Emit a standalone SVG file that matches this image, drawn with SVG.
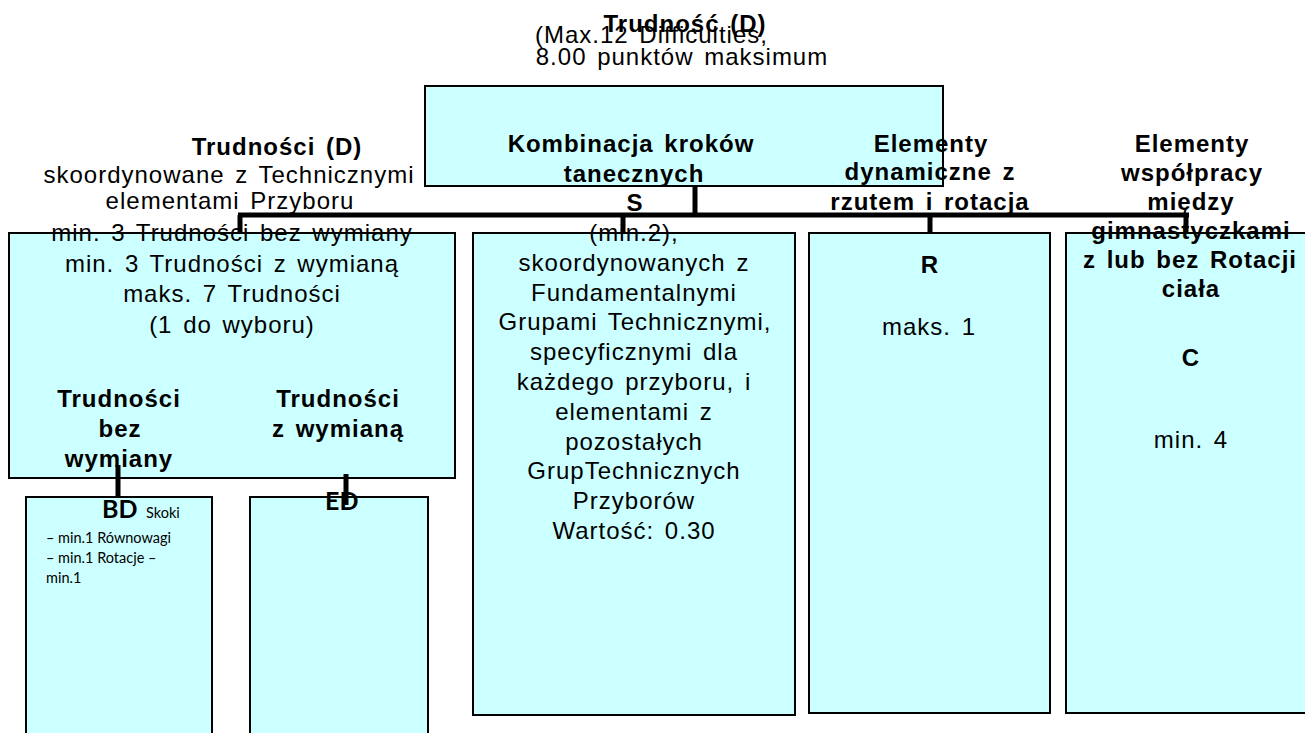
<svg xmlns="http://www.w3.org/2000/svg" width="1305" height="733" viewBox="0 0 1305 733">
<style>
.box{fill:#CCFFFF;stroke:#000;stroke-width:2}
.t{font-family:"Liberation Sans",Arial,Helvetica,sans-serif;font-size:24px;letter-spacing:1px;word-spacing:3px;fill:#000;text-anchor:middle}
.b{font-weight:bold}
.conn{stroke:#000;stroke-width:5;fill:none}
.cal{font-family:Lato,"Liberation Sans",sans-serif;fill:#000}
</style>
<rect width="1305" height="733" fill="#fff"/>
<g id="title">
<text class="t" x="535" y="43" style="text-anchor:start">(Max.12 Difficulties,</text>
<text class="t b" x="685" y="32">Trudność (D)</text>
<text class="t" x="682" y="65">8.00 punktów maksimum</text>
</g>
<g id="node-top">
<rect class="box" x="425" y="86" width="518" height="100"/>
</g>
<g id="node-difficulties">
<rect class="box" x="9" y="233" width="446" height="245"/>
<text class="t b" x="277" y="155">Trudności (D)</text>
<text class="t" x="229" y="183">skoordynowane z Technicznymi</text>
<text class="t" x="230" y="209">elementami Przyboru</text>
<text class="t" x="232" y="241">min. 3 Trudności bez wymiany</text>
<text class="t" x="232" y="271.5">min. 3 Trudności z wymianą</text>
<text class="t" x="232" y="302">maks. 7 Trudności</text>
<text class="t" x="232" y="332.5">(1 do wyboru)</text>
<text class="t b" x="119" y="407">Trudności</text>
<text class="t b" x="120" y="437">bez</text>
<text class="t b" x="119" y="467">wymiany</text>
<text class="t b" x="338" y="407">Trudności</text>
<text class="t b" x="338" y="437">z wymianą</text>
</g>
<g id="node-bd">
<rect class="box" x="26" y="497" width="186" height="250"/>
<text class="cal" x="102" y="518" font-size="25" font-weight="bold">BD</text>
<text class="cal" x="146" y="518" font-size="14.5">Skoki</text>
<text class="cal" x="46" y="543" font-size="14.5">– min.1 Równowagi</text>
<text class="cal" x="46" y="563" font-size="14.5">– min.1 Rotacje –</text>
<text class="cal" x="46" y="583" font-size="14.5">min.1</text>
</g>
<g id="node-ed">
<rect class="box" x="250" y="497" width="178" height="250"/>
<text class="cal" x="325" y="510" font-size="25" font-weight="bold">ED</text>
</g>
<g id="node-s">
<rect class="box" x="473" y="233" width="322" height="482"/>
<text class="t b" x="631" y="152">Kombinacja kroków</text>
<text class="t b" x="634" y="182">tanecznych</text>
<text class="t b" x="635" y="211">S</text>
<text class="t" x="634" y="241">(min.2),</text>
<text class="t" x="634" y="270.8">skoordynowanych z</text>
<text class="t" x="634" y="300.6">Fundamentalnymi</text>
<text class="t" x="635" y="330.4">Grupami Technicznymi,</text>
<text class="t" x="634" y="360.2">specyficznymi dla</text>
<text class="t" x="634" y="390">każdego przyboru, i</text>
<text class="t" x="634" y="419.8">elementami z</text>
<text class="t" x="634" y="449.6">pozostałych</text>
<text class="t" x="634" y="479.4">GrupTechnicznych</text>
<text class="t" x="634" y="509.2">Przyborów</text>
<text class="t" x="634" y="539">Wartość: 0.30</text>
</g>
<g id="node-r">
<rect class="box" x="809" y="233" width="241" height="480"/>
<text class="t b" x="931" y="152">Elementy</text>
<text class="t b" x="930" y="180">dynamiczne z</text>
<text class="t b" x="930" y="210">rzutem i rotacja</text>
<text class="t b" x="930" y="273">R</text>
<text class="t" x="929" y="335">maks. 1</text>
</g>
<g id="node-c">
<rect class="box" x="1066" y="233" width="260" height="480"/>
<text class="t b" x="1192" y="152">Elementy</text>
<text class="t b" x="1192" y="181">współpracy</text>
<text class="t b" x="1191" y="210">między</text>
<text class="t b" x="1191" y="239">gimnastyczkami</text>
<text class="t b" x="1190" y="268">z lub bez Rotacji</text>
<text class="t b" x="1191" y="297">ciała</text>
<text class="t b" x="1191" y="366">C</text>
<text class="t" x="1191" y="448">min. 4</text>
</g>
<g id="connectors" class="conn">
<line x1="695" y1="186" x2="695" y2="215"/>
<line x1="238" y1="215" x2="1189" y2="215"/>
<line x1="240" y1="215" x2="240" y2="233"/>
<line x1="623" y1="215" x2="623" y2="233"/>
<line x1="930" y1="215" x2="930" y2="233"/>
<line x1="1186" y1="215" x2="1186" y2="233"/>
<line x1="118" y1="465" x2="118" y2="497"/>
<line x1="346" y1="474" x2="346" y2="505"/>
</g>
</svg>
